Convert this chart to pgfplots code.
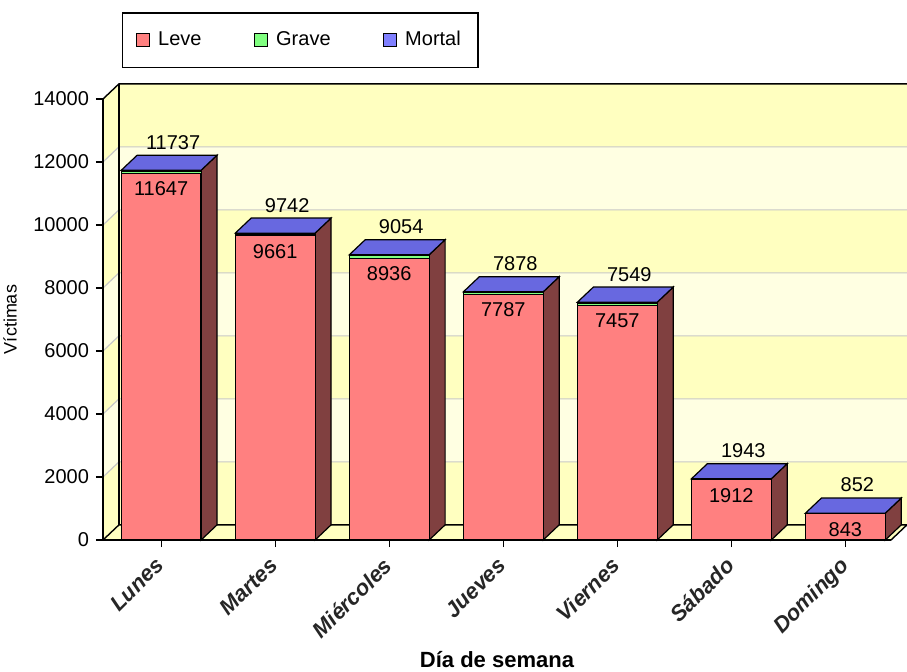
\documentclass[border=0pt]{standalone}
\usepackage{pgfplots}
\pgfplotsset{compat=1.18}
\usepackage{fontspec}
\setmainfont{Liberation Sans}
\definecolor{leve}{HTML}{FF8080}
\definecolor{grave}{HTML}{80FF80}
\definecolor{mortal}{HTML}{8080FF}
\definecolor{sidec}{HTML}{804040}
\definecolor{topb}{HTML}{6868E0}
\definecolor{wallA}{HTML}{FFFFC0}
\definecolor{wallB}{HTML}{FFFFE2}
\definecolor{gridc}{HTML}{C8C8C8}
\pgfplotsset{base/.style={width=394pt,height=220.5pt,scale only axis,
  xmin=-0.51,xmax=6.40,ymin=0,ymax=14000,clip=false,enlargelimits=false}}
\begin{document}
\begin{tikzpicture}
% ---------- background: walls, floor, grid, side and top faces ----------
\begin{axis}[base, hide axis]
\addplot[fill=wallB,draw=none] coordinates {(-0.51,0)(-0.37,480)(6.54,480)(6.54,14480)(-0.37,14480)(-0.51,14000)} -- cycle;
\addplot[fill=wallA,draw=none] coordinates {(-0.51,0)(-0.37,480)(6.54,480)(6.54,2480)(-0.37,2480)(-0.51,2000)} -- cycle;
\addplot[fill=wallA,draw=none] coordinates {(-0.51,4000)(-0.37,4480)(6.54,4480)(6.54,6480)(-0.37,6480)(-0.51,6000)} -- cycle;
\addplot[fill=wallA,draw=none] coordinates {(-0.51,8000)(-0.37,8480)(6.54,8480)(6.54,10480)(-0.37,10480)(-0.51,10000)} -- cycle;
\addplot[fill=wallA,draw=none] coordinates {(-0.51,12000)(-0.37,12480)(6.54,12480)(6.54,14480)(-0.37,14480)(-0.51,14000)} -- cycle;
\addplot[gridc,line width=0.6pt] coordinates {(-0.51,2000)(-0.37,2480)(6.54,2480)};
\addplot[gridc,line width=0.6pt] coordinates {(-0.51,4000)(-0.37,4480)(6.54,4480)};
\addplot[gridc,line width=0.6pt] coordinates {(-0.51,6000)(-0.37,6480)(6.54,6480)};
\addplot[gridc,line width=0.6pt] coordinates {(-0.51,8000)(-0.37,8480)(6.54,8480)};
\addplot[gridc,line width=0.6pt] coordinates {(-0.51,10000)(-0.37,10480)(6.54,10480)};
\addplot[gridc,line width=0.6pt] coordinates {(-0.51,12000)(-0.37,12480)(6.54,12480)};
\addplot[black,line width=0.7pt] coordinates {(-0.51,14000)(-0.37,14480)(6.54,14480)};
\addplot[black,line width=0.7pt] coordinates {(-0.37,480)(-0.37,14480)};
\addplot[fill=wallA,draw=black,line width=0.7pt] coordinates {(-0.51,0)(-0.37,480)(6.54,480)(6.40,0)} -- cycle;
% side faces
\addplot[fill=sidec,draw=black,line width=0.6pt] coordinates {(0.35,0)(0.49,480)(0.49,12217)(0.35,11737)} -- cycle;
\addplot[fill=sidec,draw=black,line width=0.6pt] coordinates {(1.35,0)(1.49,480)(1.49,10222)(1.35,9742)} -- cycle;
\addplot[fill=sidec,draw=black,line width=0.6pt] coordinates {(2.35,0)(2.49,480)(2.49,9534)(2.35,9054)} -- cycle;
\addplot[fill=sidec,draw=black,line width=0.6pt] coordinates {(3.35,0)(3.49,480)(3.49,8358)(3.35,7878)} -- cycle;
\addplot[fill=sidec,draw=black,line width=0.6pt] coordinates {(4.35,0)(4.49,480)(4.49,8029)(4.35,7549)} -- cycle;
\addplot[fill=sidec,draw=black,line width=0.6pt] coordinates {(5.35,0)(5.49,480)(5.49,2423)(5.35,1943)} -- cycle;
\addplot[fill=sidec,draw=black,line width=0.6pt] coordinates {(6.35,0)(6.49,480)(6.49,1332)(6.35,852)} -- cycle;
% top faces
\addplot[fill=topb,draw=black,line width=0.6pt] coordinates {(-0.35,11737)(-0.21,12217)(0.49,12217)(0.35,11737)} -- cycle;
\addplot[fill=topb,draw=black,line width=0.6pt] coordinates {(0.65,9742)(0.79,10222)(1.49,10222)(1.35,9742)} -- cycle;
\addplot[fill=topb,draw=black,line width=0.6pt] coordinates {(1.65,9054)(1.79,9534)(2.49,9534)(2.35,9054)} -- cycle;
\addplot[fill=topb,draw=black,line width=0.6pt] coordinates {(2.65,7878)(2.79,8358)(3.49,8358)(3.35,7878)} -- cycle;
\addplot[fill=topb,draw=black,line width=0.6pt] coordinates {(3.65,7549)(3.79,8029)(4.49,8029)(4.35,7549)} -- cycle;
\addplot[fill=topb,draw=black,line width=0.6pt] coordinates {(4.65,1943)(4.79,2423)(5.49,2423)(5.35,1943)} -- cycle;
\addplot[fill=topb,draw=black,line width=0.6pt] coordinates {(5.65,852)(5.79,1332)(6.49,1332)(6.35,852)} -- cycle;
\end{axis}
% ---------- front: stacked bars, axes, labels, legend ----------
\begin{axis}[base, ybar stacked, bar width=0.7,
  axis lines*=left,
  axis line style={black,line width=0.7pt},
  tick align=outside, major tick length=3.5pt,
  tick style={black,line width=0.6pt},
  xtick={0,...,6},
  xticklabels={Lunes,Martes,Miércoles,Jueves,Viernes,Sábado,Domingo},
  x tick label style={yshift=0.5pt,xshift=-3.5pt,rotate=45,anchor=north east,font=\fontsize{11}{13}\selectfont\bfseries\itshape,text=black!85},
  ytick={0,2000,...,14000},
  scaled y ticks=false,
  y tick label style={font=\fontsize{10}{12}\selectfont},
  /pgf/number format/assume math mode=true,
  /pgf/number format/1000 sep={},
  xlabel={Día de semana},
  xlabel style={at={(axis description cs:0.5,0)},anchor=center,yshift=-60pt,font=\fontsize{11}{13}\selectfont\bfseries},
  legend columns=3,
  legend image code/.code={\draw[#1,draw=black,line width=0.6pt] (0pt,-3.25pt) rectangle (6.5pt,3.25pt);\path[draw=none,fill=none] (6.5pt,0pt) -- (9pt,0pt);},
  legend style={at={(0.024,1.197)},anchor=north west,draw=black,line width=0.7pt,
    font=\fontsize{10}{12}\selectfont,inner xsep=6.5pt,inner ysep=7.3pt,
    /tikz/every even column/.append style={column sep=24pt}},
]
\addplot[fill=leve,draw=black,line width=0.6pt]
  coordinates {(0,11647) (1,9661) (2,8936) (3,7787) (4,7457) (5,1912) (6,843)};
\addlegendentry{Leve}
\addplot[fill=grave,draw=black,line width=0.5pt,
  nodes near coords, point meta=explicit symbolic,
  every node near coord/.append style={anchor=north,font=\fontsize{10}{12}\selectfont,yshift=-1pt}]
  coordinates {(0,40)[11647] (1,35)[9661] (2,95)[8936] (3,72)[7787] (4,40)[7457] (5,14)[1912] (6,4)[843]};
\addlegendentry{Grave}
\addplot[fill=mortal,draw=black,line width=0.5pt,
  nodes near coords, point meta=explicit symbolic,
  every node near coord/.append style={anchor=south,font=\fontsize{10}{12}\selectfont,xshift=6pt,yshift=7pt}]
  coordinates {(0,50)[11737] (1,46)[9742] (2,23)[9054] (3,19)[7878] (4,52)[7549] (5,17)[1943] (6,5)[852]};
\addlegendentry{Mortal}
\coordinate (O) at (rel axis cs:0,0);
\coordinate (T) at (rel axis cs:1,1);
\coordinate (Y) at (rel axis cs:0,0.5);
\end{axis}
\node[rotate=90,font=\fontsize{9}{10}\selectfont] at ([xshift=-46.5pt]Y) {Víctimas};
\pgfresetboundingbox
\path[use as bounding box] ([shift={(-51.5pt,-65.5pt)}]O) rectangle ([shift={(8pt,49.5pt)}]T);
\end{tikzpicture}
\end{document}
